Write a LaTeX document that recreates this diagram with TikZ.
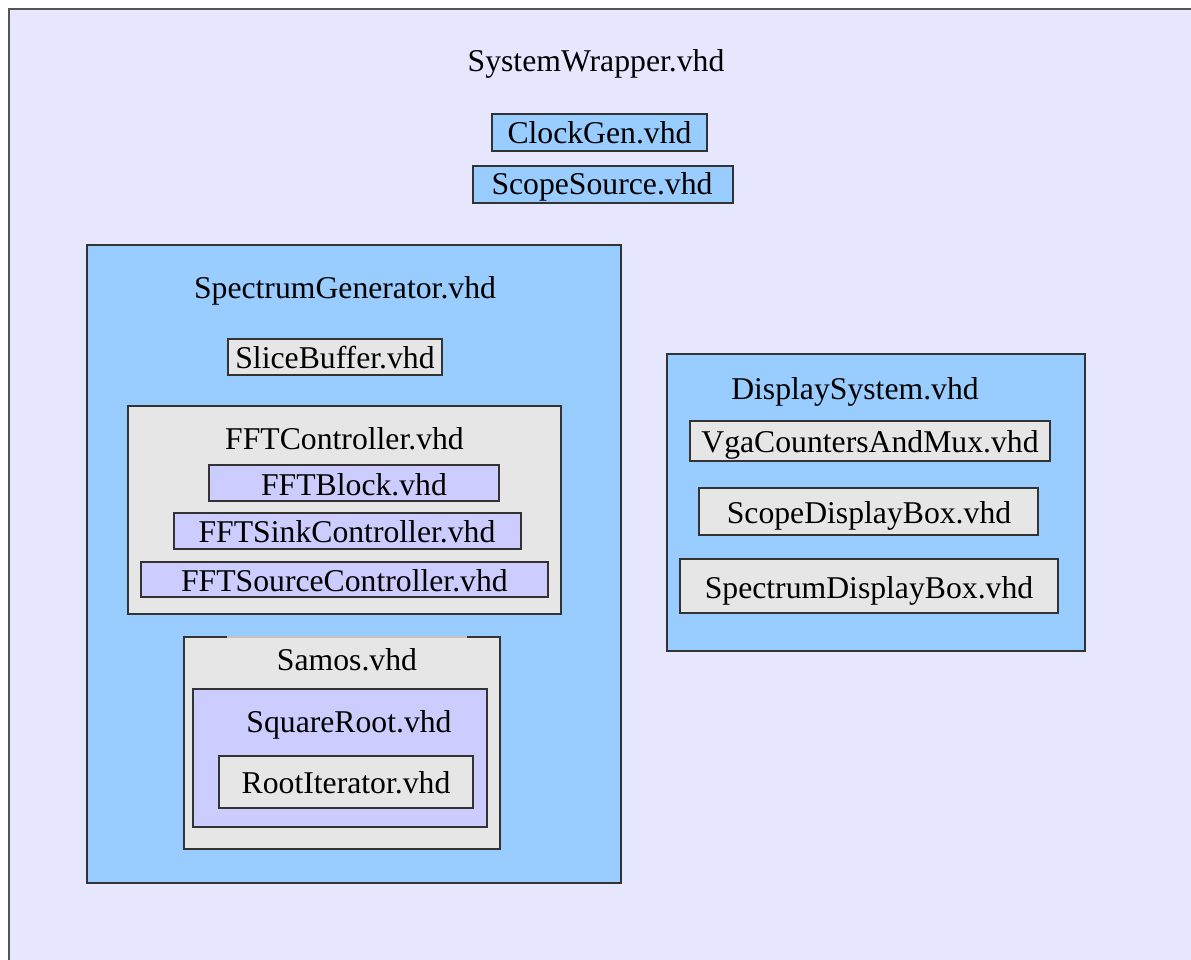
\documentclass[tikz,border=0pt]{standalone}
\usepackage{fontspec}
\setmainfont{Liberation Serif}
\definecolor{wrapfill}{HTML}{E6E6FF}
\definecolor{bluefill}{HTML}{99CCFF}
\definecolor{grayfill}{HTML}{E6E6E6}
\definecolor{purplefill}{HTML}{CCCCFF}
\definecolor{edge}{HTML}{333333}
\definecolor{outeredge}{HTML}{555555}
\definecolor{faintedge}{HTML}{C4C4C4}
\begin{document}
\begin{tikzpicture}[x=1pt,y=-1pt,
  modbox/.style={draw=edge,line width=1.2pt,rectangle,inner sep=0pt,outer sep=0pt},
  blue/.style={modbox,fill=bluefill},
  grey/.style={modbox,fill=grayfill},
  purple/.style={modbox,fill=purplefill},
  lbl/.style={anchor=base,inner sep=0pt,outer sep=0pt,font=\fontsize{31.7}{38}\selectfont}
]
\useasboundingbox (0,0) rectangle (1191,960);
\fill[white] (0,0) rectangle (1191,960);
\clip (0,0) rectangle (1191,960);

% top-level wrapper
\node[modbox,draw=outeredge,fill=wrapfill,minimum width=1191pt,minimum height=960pt] (wrap) at (604.5,489) {};
\node[lbl] (wrap-t) at (596,72) {SystemWrapper.vhd};

\node[blue,minimum width=215pt,minimum height=37pt] (clk) at (599.5,132.5) {};
\node[lbl] (clk-t) at (599.5,143.3) {ClockGen.vhd};
\node[blue,minimum width=260pt,minimum height=37pt] (src) at (603,184.5) {};
\node[lbl] (src-t) at (602,195) {ScopeSource.vhd};

% spectrum generator
\node[blue,minimum width=534pt,minimum height=638pt] (spec) at (354,564) {};
\node[lbl] (spec-t) at (345,298) {SpectrumGenerator.vhd};

\node[grey,minimum width=214pt,minimum height=36pt] (slice) at (335,357) {};
\node[lbl] (slice-t) at (335,368.3) {SliceBuffer.vhd};

\node[grey,minimum width=433pt,minimum height=208pt] (fftc) at (344.5,510) {};
\node[lbl] (fftc-t) at (344.5,449.3) {FFTController.vhd};
\node[purple,minimum width=290pt,minimum height=36pt] (fftb) at (354,483) {};
\node[lbl] (fftb-t) at (354,495) {FFTBlock.vhd};
\node[purple,minimum width=347pt,minimum height=36pt] (sink) at (347.5,531) {};
\node[lbl] (sink-t) at (347,542.7) {FFTSinkController.vhd};
\node[purple,minimum width=407pt,minimum height=35pt] (fsrc) at (344.5,579.5) {};
\node[lbl] (fsrc-t) at (344.4,591.7) {FFTSourceController.vhd};

\node[grey,minimum width=316pt,minimum height=212pt] (samos) at (342,743) {};
\draw[faintedge,line width=1.2pt] (227,637) -- (467,637);
\node[lbl] (samos-t) at (347,670) {Samos.vhd};
\node[purple,minimum width=294pt,minimum height=138pt] (sqrt) at (340,758) {};
\node[lbl] (sqrt-t) at (349,732.7) {SquareRoot.vhd};
\node[grey,minimum width=254pt,minimum height=52pt] (iter) at (346,782) {};
\node[lbl] (iter-t) at (346,793) {RootIterator.vhd};

% display system
\node[blue,minimum width=418pt,minimum height=297pt] (disp) at (876,502.5) {};
\node[lbl] (disp-t) at (855,399) {DisplaySystem.vhd};
\node[grey,minimum width=360pt,minimum height=40pt] (vga) at (870,441) {};
\node[lbl] (vga-t) at (870,452.3) {VgaCountersAndMux.vhd};
\node[grey,minimum width=339pt,minimum height=47pt] (sdb) at (868.5,511.5) {};
\node[lbl] (sdb-t) at (869,523.3) {ScopeDisplayBox.vhd};
\node[grey,minimum width=378pt,minimum height=54pt] (spdb) at (869,586) {};
\node[lbl] (spdb-t) at (869,598.3) {SpectrumDisplayBox.vhd};
\end{tikzpicture}
\end{document}
